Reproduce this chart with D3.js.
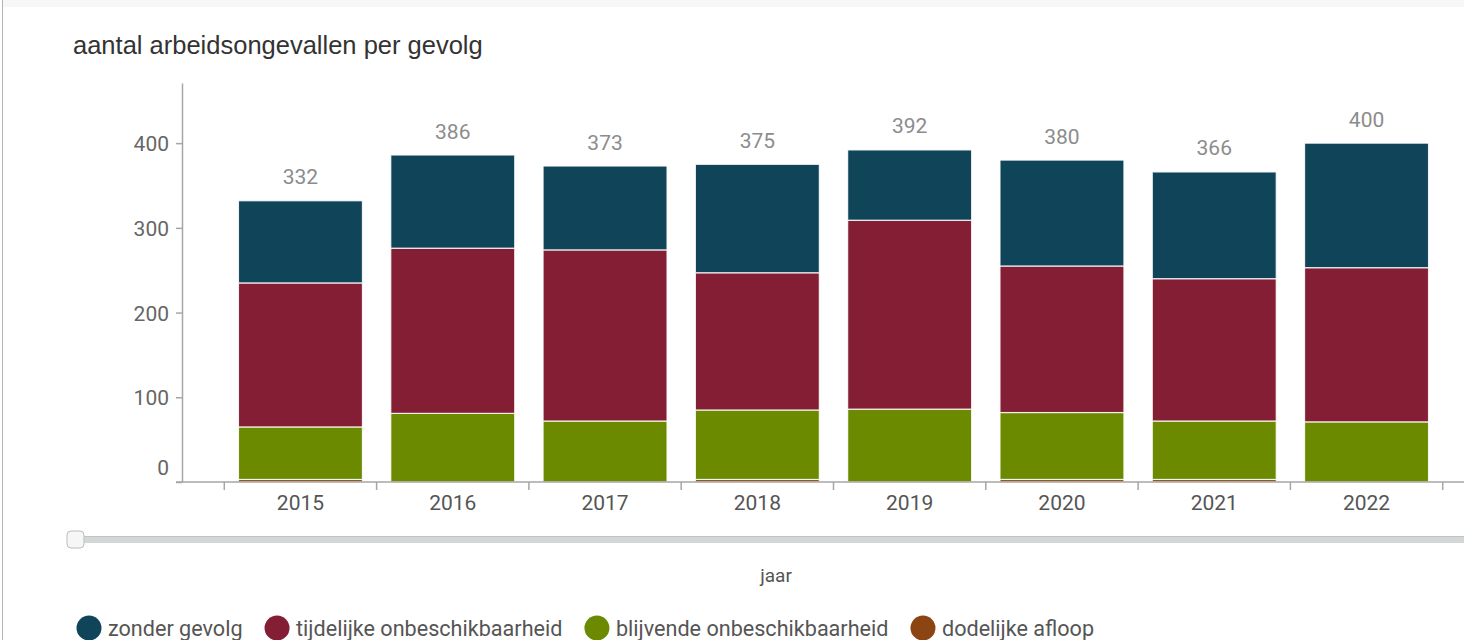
<!DOCTYPE html>
<html>
<head>
<meta charset="utf-8">
<script src="https://cdn.jsdelivr.net/npm/d3@7"></script>
<style>
  html, body { margin: 0; padding: 0; background: #fff; }
  svg { display: block; }
</style>
</head>
<body>
<svg id="chart" width="1472" height="640"></svg>
<script>
// Jaren en aantallen per gevolg (arbeidsongevallen)
const years = ["2015", "2016", "2017", "2018", "2019", "2020", "2021", "2022"];
const dodelijkeAfloop = [3, 0, 0, 3, 0, 3, 3, 0];
const blijvendeOnbeschikbaarheid = [62, 81, 72, 82, 86, 79, 69, 71];
const tijdelijkeOnbeschikbaarheid = [170, 195, 202, 162, 223, 173, 168, 182];
const zonderGevolg = [97, 110, 99, 128, 83, 125, 126, 147];
const totals = [332, 386, 373, 375, 392, 380, 366, 400];
const yTicks = [0, 100, 200, 300, 400];

const seriesKeys = ["dodelijk", "blijvend", "tijdelijk", "zonder"];
const seriesLabels = {
  zonder: "zonder gevolg",
  tijdelijk: "tijdelijke onbeschikbaarheid",
  blijvend: "blijvende onbeschikbaarheid",
  dodelijk: "dodelijke afloop"
};
const legendOrder = ["zonder", "tijdelijk", "blijvend", "dodelijk"];
const colors = {
  zonder: "#0f4459",
  tijdelijk: "#841e34",
  blijvend: "#6b8a00",
  dodelijk: "#8b4513"
};

const rows = years.map((y, i) => ({
  year: y,
  dodelijk: dodelijkeAfloop[i],
  blijvend: blijvendeOnbeschikbaarheid[i],
  tijdelijk: tijdelijkeOnbeschikbaarheid[i],
  zonder: zonderGevolg[i],
  total: totals[i]
}));

const svg = d3.select("#chart");
const frameRight = 1464;
const axisFont = "Roboto, 'Liberation Sans', Arial, sans-serif";

// panel background details
svg.append("rect").attr("x", 3).attr("y", 0).attr("width", frameRight - 3).attr("height", 7)
  .attr("fill", "#f7f7f7");
svg.append("line").attr("x1", 2.5).attr("x2", 2.5).attr("y1", 0).attr("y2", 640)
  .attr("stroke", "#b5b5b5").attr("stroke-width", 1);

// title
svg.append("text")
  .attr("x", 73).attr("y", 54)
  .attr("font-family", "'Liberation Sans', Arial, sans-serif")
  .attr("font-size", 25.5)
  .attr("fill", "#333")
  .text("aantal arbeidsongevallen per gevolg");

// scales
const plotLeft = 182, plotBottom = 482, plotTop = 83;
const x = d3.scaleBand().domain(years).range([224.3, 1442.7]).padding(0);
const inset = x.step() * 0.093;
const y = d3.scaleLinear().domain([0, 471]).range([plotBottom, plotTop]);

// stacked bars
const stack = d3.stack().keys(seriesKeys)(rows);
const g = svg.append("g");
g.selectAll("g.series")
  .data(stack)
  .join("g")
  .attr("class", "series")
  .attr("fill", d => colors[d.key])
  .selectAll("rect")
  .data(d => d)
  .join("rect")
  .attr("x", d => x(d.data.year) + inset)
  .attr("width", x.bandwidth() - 2 * inset)
  .attr("y", d => y(d[1]))
  .attr("height", d => y(d[0]) - y(d[1]))
  .attr("stroke", "#fff")
  .attr("stroke-opacity", 0.85)
  .attr("stroke-width", 1.2);

// totals above bars
g.selectAll("text.total")
  .data(rows)
  .join("text")
  .attr("class", "total")
  .attr("x", d => x(d.year) + x.bandwidth() / 2)
  .attr("y", d => y(d.total) - 16.5)
  .attr("text-anchor", "middle")
  .attr("font-family", axisFont)
  .attr("font-size", 21)
  .attr("fill", "#8c8c8c")
  .text(d => d.total);

// y axis
const yAxis = svg.append("g")
  .attr("transform", `translate(${plotLeft},0)`)
  .call(d3.axisLeft(y).tickValues(yTicks).tickSize(6).tickSizeOuter(0).tickPadding(7));
yAxis.select(".domain").attr("stroke", "#a6a6a6").attr("stroke-width", 1.5);
yAxis.selectAll(".tick line").attr("stroke", "#a6a6a6").attr("stroke-width", 1.5);
yAxis.selectAll(".tick text")
  .attr("font-family", axisFont)
  .attr("font-size", 21)
  .attr("fill", "#666")
  .attr("dy", d => d === 0 ? "-0.36em" : "0.36em");

// x axis: baseline, boundary ticks and year labels
const xAxis = svg.append("g");
xAxis.append("line")
  .attr("x1", plotLeft - 6).attr("x2", frameRight)
  .attr("y1", plotBottom).attr("y2", plotBottom)
  .attr("stroke", "#a6a6a6").attr("stroke-width", 1.5);
const boundaries = years.map(d => x(d)).concat([x(years[years.length - 1]) + x.step()]);
xAxis.selectAll("line.tick")
  .data(boundaries)
  .join("line")
  .attr("class", "tick")
  .attr("x1", d => d).attr("x2", d => d)
  .attr("y1", plotBottom).attr("y2", plotBottom + 8)
  .attr("stroke", "#a6a6a6").attr("stroke-width", 1.5);
xAxis.selectAll("text")
  .data(years)
  .join("text")
  .attr("x", d => x(d) + x.bandwidth() / 2)
  .attr("y", 510)
  .attr("text-anchor", "middle")
  .attr("font-family", axisFont)
  .attr("font-size", 21)
  .attr("fill", "#555")
  .text(d => d);

// range slider
svg.append("rect")
  .attr("x", 68).attr("y", 536).attr("width", frameRight - 68).attr("height", 7)
  .attr("fill", "#d3d7d7");
svg.append("line")
  .attr("x1", 68).attr("x2", frameRight).attr("y1", 536.5).attr("y2", 536.5)
  .attr("stroke", "#bfc3c3").attr("stroke-width", 1);
svg.append("rect")
  .attr("x", 67).attr("y", 531).attr("width", 17).attr("height", 17).attr("rx", 4)
  .attr("fill", "#f6f6f6").attr("stroke", "#bdbdbd").attr("stroke-width", 1);

// x axis title
svg.append("text")
  .attr("x", 776).attr("y", 582)
  .attr("text-anchor", "middle")
  .attr("font-family", axisFont)
  .attr("font-size", 19)
  .attr("fill", "#555")
  .text("jaar");

// legend
const legend = svg.append("g");
let lx = 89;
legendOrder.forEach(key => {
  legend.append("circle")
    .attr("cx", lx).attr("cy", 628).attr("r", 12.5)
    .attr("fill", colors[key]);
  const t = legend.append("text")
    .attr("x", lx + 19).attr("y", 636)
    .attr("font-family", axisFont)
    .attr("font-size", 21.6)
    .attr("fill", "#555")
    .text(seriesLabels[key]);
  const w = t.node().getComputedTextLength();
  lx = lx + 19 + w + 22 + 12.5;
});
</script>
</body>
</html>
